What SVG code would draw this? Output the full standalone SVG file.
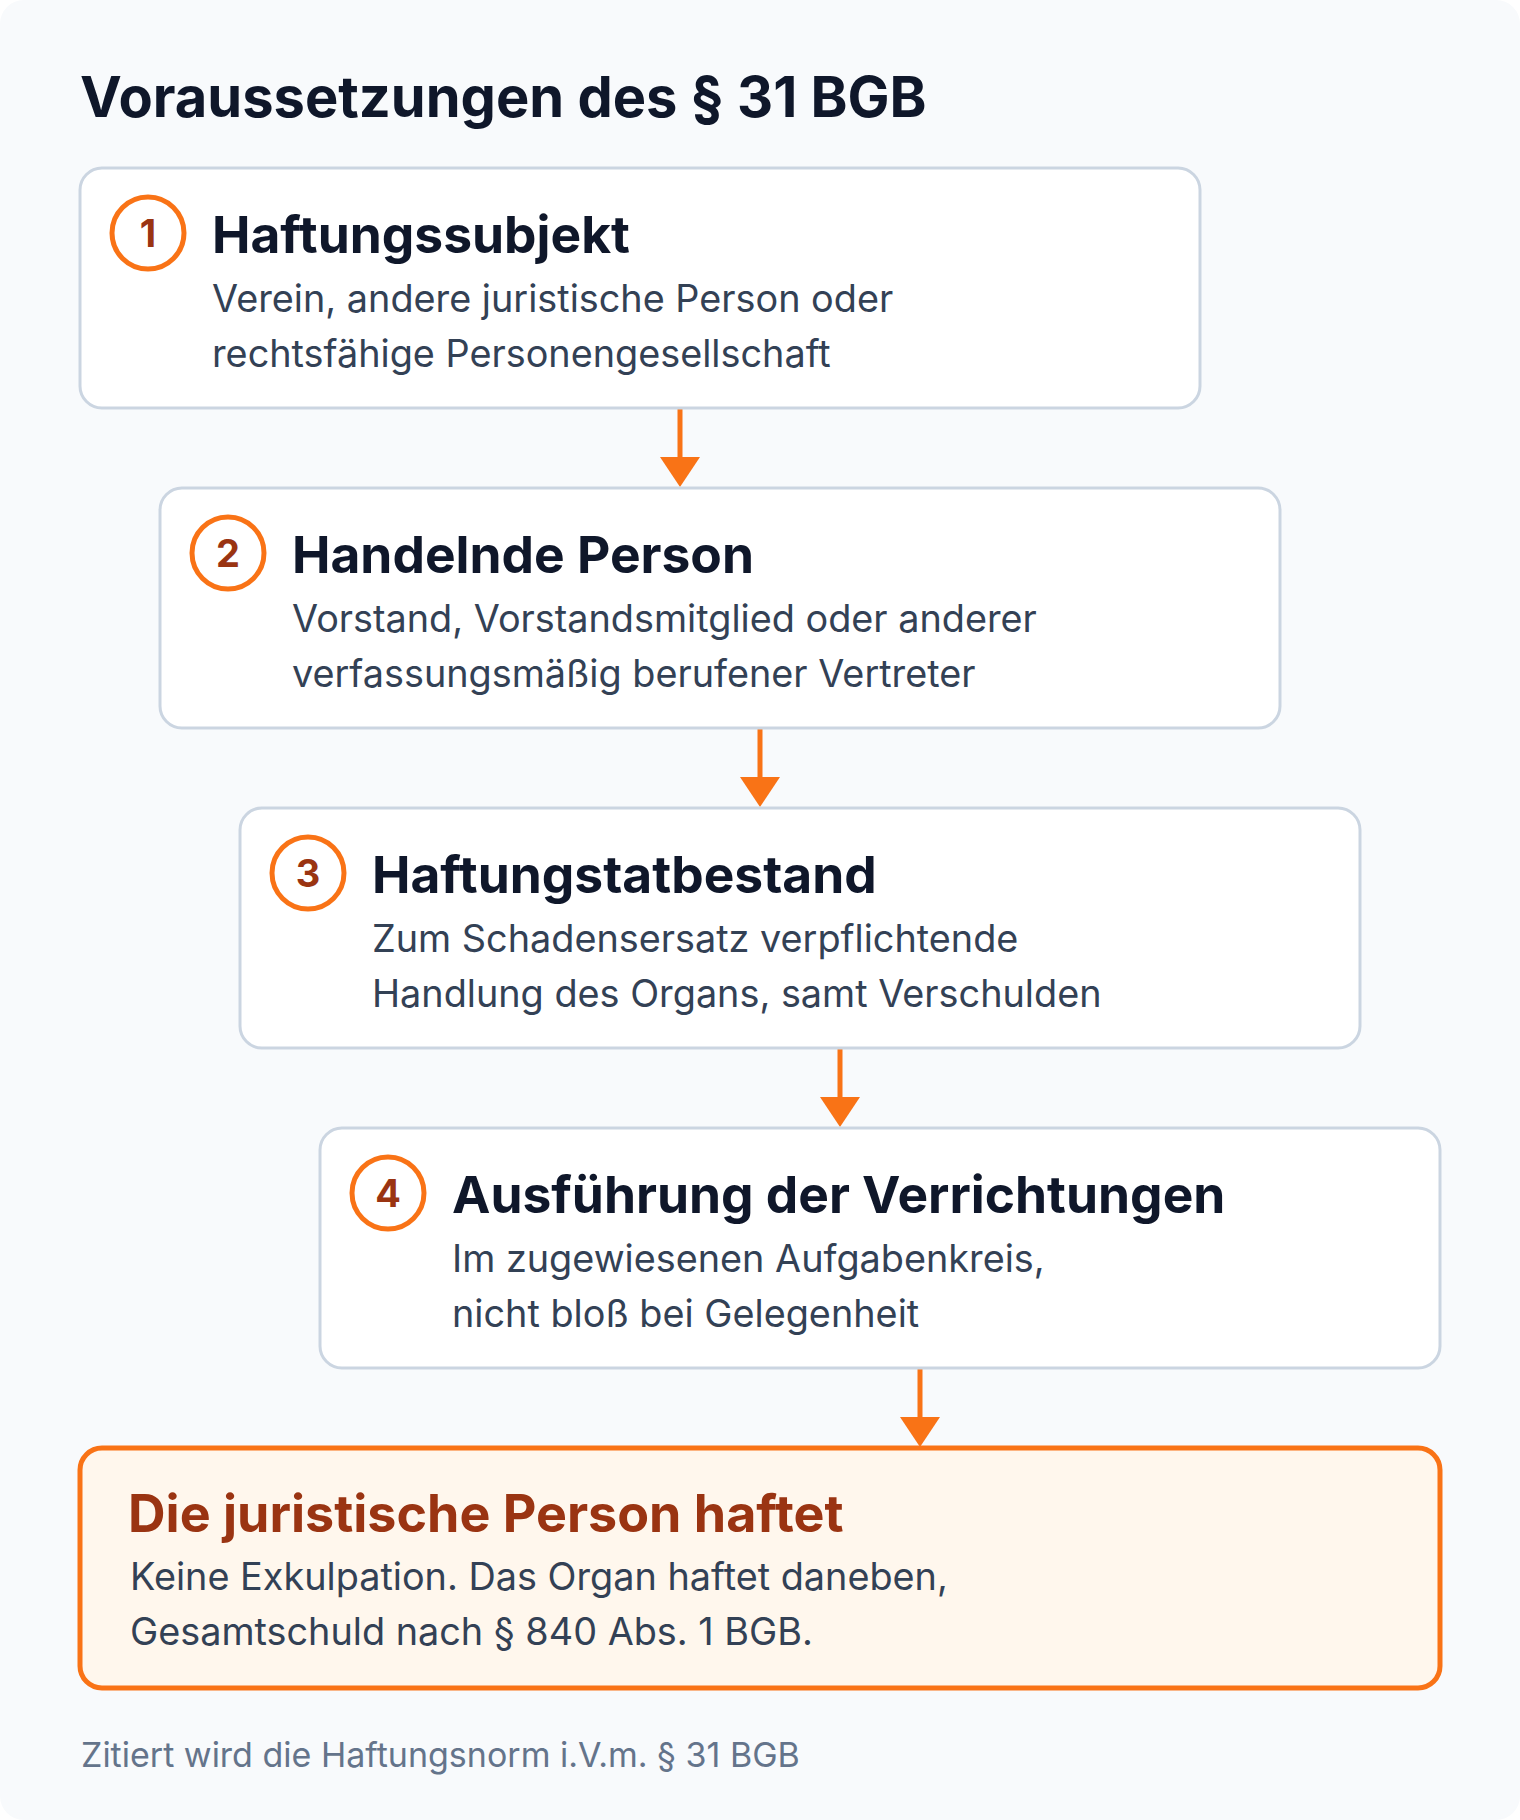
<svg xmlns="http://www.w3.org/2000/svg" width="1520" height="1820" viewBox="0 0 1520 1820">
<defs>
<style>
.bg{fill:#f8fafc}
.box{fill:#ffffff;stroke:#cbd5e1;stroke-width:3}
.final{fill:#fff7ed;stroke:#f97316;stroke-width:5}
.badge{fill:#ffffff;stroke:#f97316;stroke-width:5}
.num{font-family:Inter,"Noto Sans",sans-serif;font-weight:700;font-size:38px;fill:#9a3412;text-anchor:middle}
.title{font-family:Inter,"Noto Sans",sans-serif;font-weight:700;font-size:56px;fill:#0f172a}
.head{font-family:Inter,"Noto Sans",sans-serif;font-weight:700;font-size:51.5px;fill:#0f172a}
.headf{font-family:Inter,"Noto Sans",sans-serif;font-weight:700;font-size:52px;fill:#9a3412}
.body{font-family:Inter,"Noto Sans",sans-serif;font-weight:400;font-size:37.8px;fill:#334155}
.foot{font-family:Inter,"Noto Sans",sans-serif;font-weight:400;font-size:34px;fill:#64748b}
.conn{stroke:#f97316;stroke-width:5;fill:none}
.head-arrow{fill:#f97316}
</style>
</defs>
<rect x="0" y="0" width="1520" height="1820" fill="#ffffff"/>
<rect class="bg" x="0" y="0" width="1520" height="1820" rx="24"/>
<text class="title" x="80" y="117">Voraussetzungen des § 31 BGB</text>

<g id="connectors">
<line class="conn" x1="680" y1="408" x2="680" y2="460"/>
<polygon class="head-arrow" points="660,457 700,457 680,487"/>
<line class="conn" x1="760" y1="728" x2="760" y2="780"/>
<polygon class="head-arrow" points="740,777 780,777 760,807"/>
<line class="conn" x1="840" y1="1048" x2="840" y2="1100"/>
<polygon class="head-arrow" points="820,1097 860,1097 840,1127"/>
<line class="conn" x1="920" y1="1368" x2="920" y2="1420"/>
<polygon class="head-arrow" points="900,1417 940,1417 920,1447"/>
</g>

<g id="node1">
<rect class="box" x="80" y="168" width="1120" height="240" rx="22"/>
<circle class="badge" cx="148" cy="233" r="36"/>
<text class="num" x="148" y="247">1</text>
<text class="head" x="212" y="253">Haftungssubjekt</text>
<text class="body" x="212" y="312">Verein, andere juristische Person oder</text>
<text class="body" x="212" y="367">rechtsfähige Personengesellschaft</text>
</g>

<g id="node2">
<rect class="box" x="160" y="488" width="1120" height="240" rx="22"/>
<circle class="badge" cx="228" cy="553" r="36"/>
<text class="num" x="228" y="567">2</text>
<text class="head" x="292" y="573">Handelnde Person</text>
<text class="body" x="292" y="632">Vorstand, Vorstandsmitglied oder anderer</text>
<text class="body" x="292" y="687">verfassungsmäßig berufener Vertreter</text>
</g>

<g id="node3">
<rect class="box" x="240" y="808" width="1120" height="240" rx="22"/>
<circle class="badge" cx="308" cy="873" r="36"/>
<text class="num" x="308" y="887">3</text>
<text class="head" x="372" y="893">Haftungstatbestand</text>
<text class="body" x="372" y="952">Zum Schadensersatz verpflichtende</text>
<text class="body" x="372" y="1007">Handlung des Organs, samt Verschulden</text>
</g>

<g id="node4">
<rect class="box" x="320" y="1128" width="1120" height="240" rx="22"/>
<circle class="badge" cx="388" cy="1193" r="36"/>
<text class="num" x="388" y="1207">4</text>
<text class="head" x="452" y="1213">Ausführung der Verrichtungen</text>
<text class="body" x="452" y="1272">Im zugewiesenen Aufgabenkreis,</text>
<text class="body" x="452" y="1327">nicht bloß bei Gelegenheit</text>
</g>

<g id="result">
<rect class="final" x="80" y="1448" width="1360" height="240" rx="22"/>
<text class="headf" x="128" y="1532">Die juristische Person haftet</text>
<text class="body" x="130" y="1590">Keine Exkulpation. Das Organ haftet daneben,</text>
<text class="body" x="130" y="1645">Gesamtschuld nach § 840 Abs. 1 BGB.</text>
</g>

<text class="foot" x="81" y="1767">Zitiert wird die Haftungsnorm i.V.m. § 31 BGB</text>
</svg>
